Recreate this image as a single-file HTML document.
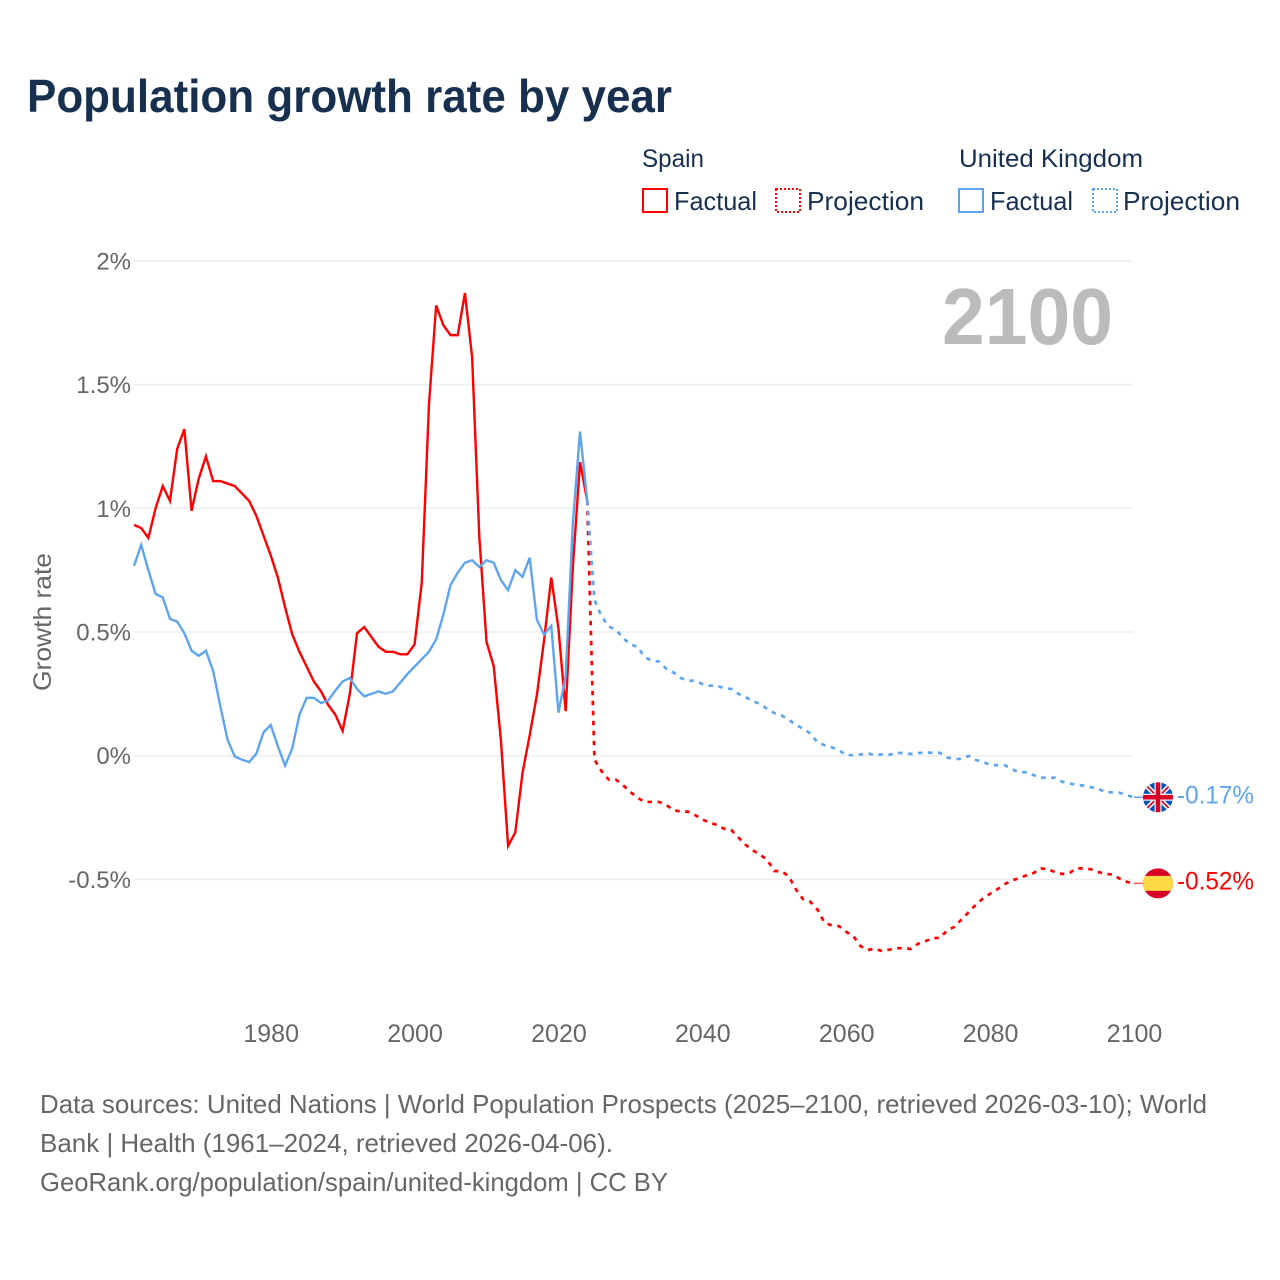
<!DOCTYPE html>
<html lang="en">
<head>
<meta charset="utf-8">
<title>Population growth rate by year</title>
<style>
html,body{margin:0;padding:0;background:#fff}
svg{display:block}
text{font-family:"Liberation Sans",sans-serif}
</style>
</head>
<body>
<svg id="chart" width="1280" height="1280" viewBox="0 0 1280 1280" xmlns="http://www.w3.org/2000/svg">
  <defs>
    <clipPath id="flag-clip-uk"><circle cx="15" cy="15" r="15"/></clipPath>
    <clipPath id="flag-clip-es"><circle cx="15" cy="15" r="15"/></clipPath>
  </defs>
  <text x="27" y="112" font-size="46" font-weight="700" fill="#17304f" textLength="645" lengthAdjust="spacingAndGlyphs">Population growth rate by year</text>

  <g>
    <text x="642" y="167" font-size="25" fill="#17304f" textLength="62" lengthAdjust="spacingAndGlyphs">Spain</text>
    <text x="959" y="167" font-size="25" fill="#17304f" textLength="184" lengthAdjust="spacingAndGlyphs">United Kingdom</text>
    <rect x="643" y="189" width="24" height="23" fill="none" stroke="#ff0000" stroke-width="2"/>
    <text x="674" y="210" font-size="26" fill="#17304f" textLength="83" lengthAdjust="spacingAndGlyphs">Factual</text>
    <rect x="776" y="189" width="24" height="23" fill="none" stroke="#ff0000" stroke-width="2" stroke-dasharray="2 2"/>
    <text x="807" y="210" font-size="26" fill="#17304f" textLength="117" lengthAdjust="spacingAndGlyphs">Projection</text>
    <rect x="959" y="189" width="24" height="23" fill="none" stroke="#5fa5ee" stroke-width="2"/>
    <text x="990" y="210" font-size="26" fill="#17304f" textLength="83" lengthAdjust="spacingAndGlyphs">Factual</text>
    <rect x="1093" y="189" width="24" height="23" fill="none" stroke="#5fa5ee" stroke-width="2" stroke-dasharray="2 2"/>
    <text x="1123" y="210" font-size="26" fill="#17304f" textLength="117" lengthAdjust="spacingAndGlyphs">Projection</text>
  </g>

  <g id="grid"></g>
  <g id="yticks"></g>
  <g id="xticks"></g>
  <text transform="translate(51,622) rotate(-90)" text-anchor="middle" font-size="25" fill="#666666" textLength="138" lengthAdjust="spacingAndGlyphs">Growth rate</text>
  <text x="942" y="344" font-size="80" font-weight="700" fill="#bbbbbb" textLength="171" lengthAdjust="spacingAndGlyphs">2100</text>

  <g id="series"></g>

  <g id="flag-uk">
    <g clip-path="url(#flag-clip-uk)">
      <rect width="30" height="30" fill="#0052b4"/>
      <path d="M0 0L30 30M30 0L0 30" stroke="#f0f0f0" stroke-width="5"/>
      <path d="M0 0L30 30M30 0L0 30" stroke="#d80027" stroke-width="1.6"/>
      <path d="M15 0V30M0 15H30" stroke="#f0f0f0" stroke-width="7"/>
      <path d="M15 0V30M0 15H30" stroke="#d80027" stroke-width="4.5"/>
    </g>
  </g>
  <g id="flag-es">
    <g clip-path="url(#flag-clip-es)">
      <rect width="30" height="30" fill="#d80027"/>
      <rect y="7.5" width="30" height="15" fill="#ffda44"/>
    </g>
  </g>
  <text id="end-label-uk" x="1177" font-size="25" fill="#5fa5ee" textLength="77" lengthAdjust="spacingAndGlyphs"></text>
  <text id="end-label-es" x="1177" font-size="25" fill="#ff0000" textLength="77" lengthAdjust="spacingAndGlyphs"></text>

  <g>
    <text x="40" y="1113" font-size="26" fill="#666666" textLength="1167" lengthAdjust="spacingAndGlyphs">Data sources: United Nations | World Population Prospects (2025–2100, retrieved 2026-03-10); World</text>
    <text x="40" y="1152" font-size="26" fill="#666666" textLength="573" lengthAdjust="spacingAndGlyphs">Bank | Health (1961–2024, retrieved 2026-04-06).</text>
    <text x="40" y="1191" font-size="26" fill="#666666" textLength="628" lengthAdjust="spacingAndGlyphs">GeoRank.org/population/spain/united-kingdom | CC BY</text>
  </g>
</svg>
<script>
const factualStartYear = 1961;
const projectionStartYear = 2024;
const yTickValues = [2, 1.5, 1, 0.5, 0, -0.5];
const yTickLabels = ['2%', '1.5%', '1%', '0.5%', '0%', '-0.5%'];
const xTickYears = [1980, 2000, 2020, 2040, 2060, 2080, 2100];
const endLabels = ['-0.17%', '-0.52%'];

const spainFactual = [0.933,0.92,0.88,1.0,1.09,1.03,1.24,1.32,0.99,1.12,1.21,1.11,1.11,1.10,1.09,1.06,1.03,0.97,0.89,0.81,0.72,0.60,0.49,0.42,0.36,0.30,0.26,0.205,0.165,0.10,0.25,0.495,0.52,0.48,0.44,0.42,0.42,0.41,0.41,0.45,0.70,1.42,1.82,1.74,1.70,1.70,1.87,1.61,0.884,0.46,0.362,0.063,-0.365,-0.31,-0.07,0.083,0.245,0.467,0.72,0.514,0.18,0.763,1.187,1.03];
const ukFactual = [0.767,0.852,0.75,0.654,0.64,0.553,0.542,0.495,0.425,0.404,0.424,0.343,0.20,0.065,-0.003,-0.016,-0.026,0.008,0.094,0.124,0.038,-0.04,0.03,0.166,0.234,0.234,0.213,0.223,0.264,0.30,0.314,0.27,0.24,0.25,0.26,0.25,0.26,0.295,0.33,0.36,0.39,0.42,0.47,0.57,0.69,0.74,0.78,0.79,0.763,0.79,0.78,0.71,0.669,0.75,0.723,0.80,0.55,0.49,0.525,0.174,0.32,0.94,1.31,1.03];
const spainProjection = [1.03,-0.016,-0.063,-0.097,-0.097,-0.12,-0.147,-0.17,-0.187,-0.187,-0.187,-0.20,-0.22,-0.226,-0.226,-0.24,-0.258,-0.27,-0.28,-0.295,-0.30,-0.33,-0.36,-0.382,-0.40,-0.42,-0.466,-0.467,-0.487,-0.54,-0.58,-0.59,-0.622,-0.676,-0.686,-0.689,-0.712,-0.73,-0.77,-0.785,-0.78,-0.79,-0.784,-0.778,-0.778,-0.781,-0.76,-0.75,-0.737,-0.737,-0.707,-0.692,-0.663,-0.633,-0.603,-0.577,-0.558,-0.54,-0.52,-0.504,-0.496,-0.484,-0.475,-0.455,-0.459,-0.47,-0.478,-0.475,-0.455,-0.456,-0.459,-0.47,-0.478,-0.48,-0.497,-0.51,-0.516];
const ukProjection = [1.03,0.63,0.563,0.522,0.509,0.475,0.45,0.44,0.398,0.384,0.38,0.351,0.336,0.314,0.303,0.303,0.29,0.283,0.283,0.273,0.27,0.25,0.237,0.22,0.21,0.19,0.172,0.163,0.145,0.125,0.109,0.09,0.054,0.042,0.034,0.022,0.002,0.002,0.005,0.009,0.003,0.005,0.004,0.011,0.011,0.007,0.011,0.012,0.012,0.012,-0.007,-0.013,-0.013,-0.001,-0.017,-0.024,-0.038,-0.038,-0.038,-0.054,-0.067,-0.067,-0.078,-0.089,-0.089,-0.089,-0.105,-0.112,-0.118,-0.121,-0.127,-0.132,-0.148,-0.148,-0.15,-0.16,-0.168];

const NS = 'http://www.w3.org/2000/svg';
const xScale = function (year) { return 134 + (year - 1961) * (1000 / 139); };
const yScale = function (value) { return 755.7 - value * 247.4; };

function makeSvg(tag, parentId) {
  const el = document.createElementNS(NS, tag);
  document.getElementById(parentId).appendChild(el);
  return el;
}
function linePath(values, startYear) {
  return values.map(function (v, i) {
    return (i ? 'L' : 'M') + xScale(startYear + i).toFixed(2) + ' ' + yScale(v).toFixed(2);
  }).join('');
}

yTickValues.forEach(function (v, i) {
  const grid = makeSvg('line', 'grid');
  
  
  grid.setAttribute('x1', 134);
  grid.setAttribute('x2', 1133);
  grid.setAttribute('y1', yScale(v));
  grid.setAttribute('y2', yScale(v));
  grid.setAttribute('stroke', '#eeeeee');
  grid.setAttribute('stroke-width', 1.5);
  const label = makeSvg('text', 'yticks');
  
  
  label.setAttribute('x', 131);
  label.setAttribute('y', yScale(v) + 8.5);
  label.setAttribute('text-anchor', 'end');
  label.setAttribute('font-size', 24);
  label.setAttribute('fill', '#666666');
  label.textContent = yTickLabels[i];
});

xTickYears.forEach(function (year) {
  const label = makeSvg('text', 'xticks');
  
  
  label.setAttribute('x', xScale(year) + 0.5);
  label.setAttribute('y', 1042);
  label.setAttribute('text-anchor', 'middle');
  label.setAttribute('font-size', 25);
  label.setAttribute('fill', '#666666');
  label.textContent = String(year);
});

function drawFactual(values, color, name) {
  const path = makeSvg('path', 'series');
  
  
  path.setAttribute('d', linePath(values, factualStartYear));
  path.setAttribute('fill', 'none');
  path.setAttribute('stroke', color);
  path.setAttribute('stroke-width', 2.4);
  path.setAttribute('stroke-linejoin', 'miter');
}
function drawProjection(values, color, name) {
  const path = makeSvg('path', 'series');
  
  
  path.setAttribute('d', linePath(values, projectionStartYear));
  path.setAttribute('fill', 'none');
  path.setAttribute('stroke', color);
  path.setAttribute('stroke-width', 2.7);
  path.setAttribute('stroke-dasharray', '4.5 5.5');
}
function drawConnector(value, color, name) {
  const line = makeSvg('line', 'series');
  
  
  line.setAttribute('x1', xScale(2100));
  line.setAttribute('x2', xScale(2100) + 9);
  line.setAttribute('y1', yScale(value));
  line.setAttribute('y2', yScale(value));
  line.setAttribute('stroke', color);
  line.setAttribute('stroke-width', 1.5);
}

drawFactual(spainFactual, '#ff0000', 'spain-factual-line');
drawFactual(ukFactual, '#5fa5ee', 'uk-factual-line');
drawProjection(spainProjection, '#ff0000', 'spain-projection-line');
drawProjection(ukProjection, '#5fa5ee', 'uk-projection-line');

const ukLast = ukProjection[ukProjection.length - 1];
const spainLast = spainProjection[spainProjection.length - 1];
drawConnector(ukLast, '#5fa5ee', 'uk-end-connector');
drawConnector(spainLast, '#ff5555', 'spain-end-connector');

document.getElementById('flag-uk').setAttribute('transform', 'translate(' + (xScale(2100) + 9) + ',' + (yScale(ukLast) - 15) + ')');
document.getElementById('flag-es').setAttribute('transform', 'translate(' + (xScale(2100) + 9) + ',' + (yScale(spainLast) - 15) + ')');

const ukEndLabel = document.getElementById('end-label-uk');
ukEndLabel.setAttribute('y', yScale(ukLast) + 6);
ukEndLabel.textContent = endLabels[0];
const spainEndLabel = document.getElementById('end-label-es');
spainEndLabel.setAttribute('y', yScale(spainLast) + 6);
spainEndLabel.textContent = endLabels[1];
</script>
</body>
</html>
